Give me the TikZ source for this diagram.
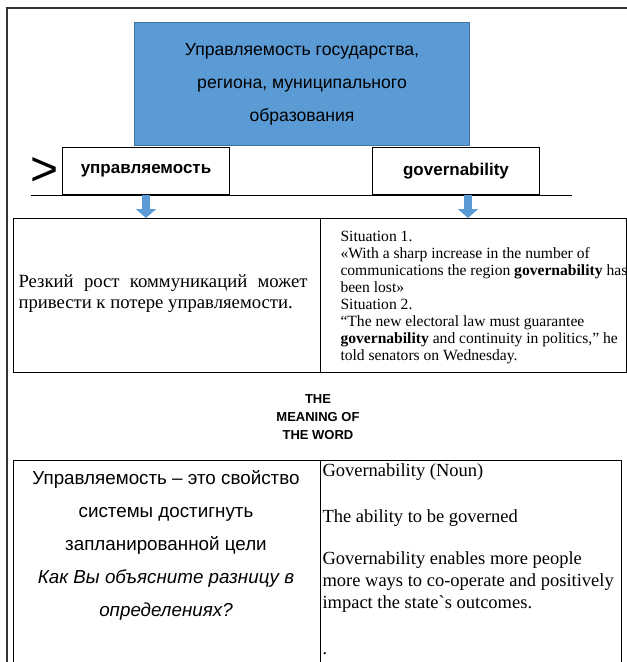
\documentclass[tikz,border=0pt]{standalone}
\usepackage{fontspec}
\setmainfont{Liberation Serif}
\setsansfont{Liberation Sans}
\usetikzlibrary{arrows.meta}
\definecolor{boxblue}{HTML}{5B9BD5}
\definecolor{boxedge}{HTML}{41719C}

\begin{document}
\begin{tikzpicture}[x=1pt, y=-1pt, line width=1pt,
    cell/.style={rectangle, draw, anchor=north west, inner sep=0pt},
    word/.style={rectangle, draw, fill=white, anchor=north west, minimum width=167pt, minimum height=47pt, font=\sffamily\bfseries\fontsize{17}{20}\selectfont},
    downarrow/.style={draw=boxblue, line width=8pt, -{Triangle[width=20pt, length=9pt]}}]
    \useasboundingbox (0,0) rectangle (627,662);
    \draw[line width=1.6pt, black!80] (7,662) -- (7,8) -- (627,8);
    \node[rectangle, draw=boxedge, fill=boxblue, anchor=north west, minimum width=335pt, minimum height=123pt, align=center, font=\sffamily\fontsize{17.6}{33}\selectfont] (state) at (134,22) {Управляемость государства,\\региона, муниципального\\образования};
    \node[word] (ru) at (62,147) {управляемость};
    \node[word] (en) at (372,147) {governability};
    \node[font=\sffamily\fontsize{48}{48}\selectfont, inner sep=0pt] (gt) at (44.5,172) {>};
    \draw (31,195) -- (572,195);
    \node[cell, minimum width=307pt, minimum height=154pt] (ex1) at (13,218) {};
    \node[cell, minimum width=306pt, minimum height=154pt] (ex2) at (320,218) {};
    \node[anchor=west, inner sep=0pt, text width=289pt, align=justify, font=\fontsize{18.7}{21}\selectfont] (exru) at (18,294) {Резкий рост коммуникаций может привести к потере управляемости.};
    \node[anchor=north west, inner sep=0pt, align=left, font=\fontsize{15.6}{17}\selectfont] (exen) at (340,231) {Situation 1.\\«With a sharp increase in the number of\\communications the region \textbf{governability} has\\been lost»\\Situation 2.\\“The new electoral law must guarantee\\\textbf{governability} and continuity in politics,” he\\told senators on Wednesday.};
    \draw[downarrow] (ru.south) -- (ru.south |- ex1.north);
    \draw[downarrow] ([xshift=12pt]en.south) -- ([xshift=12pt]en.south |- ex2.north);
    \node[align=center, font=\sffamily\bfseries\fontsize{13}{18}\selectfont] (title) at (318,417) {THE\\MEANING OF\\THE WORD};
    \node[cell, minimum width=307pt, minimum height=210pt] (def1) at (13,460) {};
    \node[cell, minimum width=301pt, minimum height=210pt] (def2) at (320,460) {};
    \node[anchor=north, inner sep=0pt, align=center, font=\sffamily\fontsize{18.8}{33}\selectfont] (defru) at (166,470) {Управляемость – это свойство\\системы достигнуть\\запланированной цели\\\textit{Как Вы объясните разницу в}\\\textit{определениях?}};
    \node[anchor=north west, inner sep=0pt, align=left, font=\fontsize{18.5}{22}\selectfont] (defen) at (322,463) {Governability (Noun)\\[24pt]The ability to be governed\\[20pt]Governability enables more people\\more ways to co-operate and positively\\impact the state\textasciigrave s outcomes.\\[24pt].};
\end{tikzpicture}
\end{document}
